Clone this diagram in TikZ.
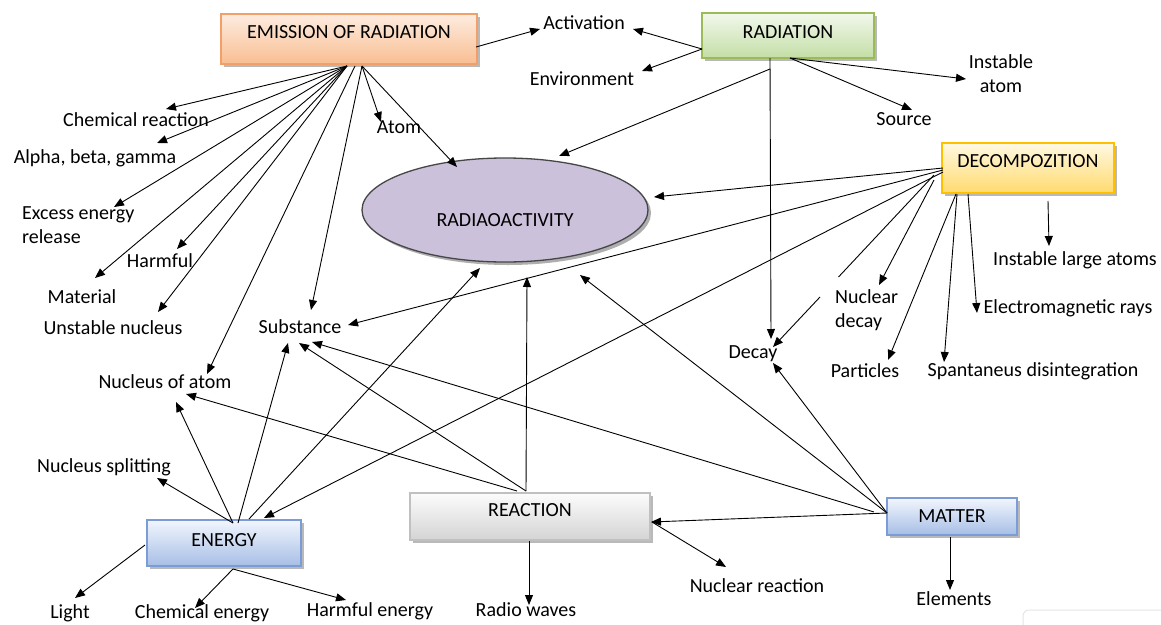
\documentclass[tikz,border=0pt]{standalone}
\usepackage{fontspec}
\setmainfont{Carlito}
\usetikzlibrary{arrows.meta,shapes.geometric,shadows}
\definecolor{emB}{RGB}{242,160,106}
\definecolor{emT}{RGB}{253,236,224}
\definecolor{emD}{RGB}{249,190,146}
\definecolor{raB}{RGB}{155,187,89}
\definecolor{raT}{RGB}{242,248,236}
\definecolor{raD}{RGB}{196,222,166}
\definecolor{deB}{RGB}{255,192,0}
\definecolor{deT}{RGB}{255,249,226}
\definecolor{deD}{RGB}{255,218,110}
\definecolor{enB}{RGB}{124,156,216}
\definecolor{enT}{RGB}{242,246,253}
\definecolor{enD}{RGB}{166,190,230}
\definecolor{reB}{RGB}{192,192,192}
\definecolor{reT}{RGB}{252,252,252}
\definecolor{reD}{RGB}{212,212,212}
\definecolor{elF}{RGB}{204,193,218}
\definecolor{elB}{RGB}{70,70,70}
\tikzset{
  txt/.style={font=\fontsize{20}{24}\selectfont},
  lbl/.style={txt, inner sep=1pt, anchor=base},
  boxbase/.style={txt, inner xsep=0pt, inner ysep=0pt, anchor=base, line width=1.3pt,
    drop shadow={shadow xshift=3pt,shadow yshift=-3pt,fill=black!30,opacity=0.9}},
  arr/.style={-{Triangle[length=10pt,width=8pt]}, line width=0.9pt},
  seg/.style={line width=0.9pt},
}
\begin{document}
\begin{tikzpicture}[x=1pt,y=-1pt]
\clip (0,0) rectangle (1161,624);
\fill[white] (0,0) rectangle (1161,624);
\draw[black!10, rounded corners=6pt, line width=1pt] (1023,610) rectangle (1200,690);

% main nodes
\node[boxbase, draw=emB, top color=emT, bottom color=emD, minimum width=256pt, text height=24pt, text depth=26pt] (emission) at (349,38) {EMISSION OF RADIATION};
\node[boxbase, draw=raB, top color=raT, bottom color=raD, minimum width=172pt, text height=25pt, text depth=20pt] (radiation) at (788,38) {RADIATION};
\node[boxbase, draw=deB, top color=deT, bottom color=deD, minimum width=172pt, text height=24pt, text depth=26pt] (decomp) at (1028,167) {DECOMPOZITION};
\node[boxbase, draw=enB, top color=enT, bottom color=enD, minimum width=154pt, text height=26pt, text depth=20pt] (energy) at (224,546) {ENERGY};
\node[boxbase, draw=reB, top color=reT, bottom color=reD, minimum width=240pt, text height=23pt, text depth=24pt] (reaction) at (530,516) {REACTION};
\node[boxbase, draw=enB, top color=enT, bottom color=enD, minimum width=130pt, text height=24pt, text depth=13pt] (matter) at (952,522) {MATTER};
\node[txt, ellipse, draw=elB, fill=elF, line width=1.3pt, minimum width=286pt, minimum height=104pt,
  text height=32pt, text depth=0pt, inner sep=0pt, anchor=base,
  drop shadow={shadow xshift=3pt,shadow yshift=-3pt,fill=black!35,opacity=0.9}] (radio) at (505,226) {RADIAOACTIVITY};

% labels
\node[lbl] (activation) at (584,29) {Activation};
\node[lbl] (environment) at (582,85) {Environment};
\node[lbl, align=center] (instatom) at (1001,92) {Instable\\atom};
\node[lbl] (source) at (904,125) {Source};
\node[lbl] (chemreact) at (136,126) {Chemical reaction};
\node[lbl] (alpha) at (95,163) {Alpha, beta, gamma};
\node[lbl, anchor=base west, align=left] (excess) at (21,243) {Excess energy\\release};
\node[lbl] (harmful) at (160,267) {Harmful};
\node[lbl] (material) at (82,303) {Material};
\node[lbl] (unstable) at (113,334) {Unstable nucleus};
\node[lbl] (atom) at (399,133) {Atom};
\node[lbl] (substance) at (300,333) {Substance};
\node[lbl] (nucatom) at (165,388) {Nucleus of atom};
\node[lbl] (nucsplit) at (104,472) {Nucleus splitting};
\node[lbl] (light) at (70,618) {Light};
\node[lbl] (chemenergy) at (202,618) {Chemical energy};
\node[lbl] (harmenergy) at (370,616) {Harmful energy};
\node[lbl] (radiowaves) at (526,616) {Radio waves};
\node[lbl] (nucreact) at (757,592) {Nuclear reaction};
\node[lbl] (elements) at (954,605) {Elements};
\node[lbl] (decay) at (753,358) {Decay};
\node[lbl] (particles) at (865,377) {Particles};
\node[lbl] (spont) at (1033,376) {Spantaneus disintegration};
\node[lbl] (emrays) at (1068,313) {Electromagnetic rays};
\node[lbl] (largeatoms) at (1075,265) {Instable large atoms};
\node[lbl, anchor=base west, align=left] (nucdecay) at (834,327) {Nuclear\\decay};

% connector end points
\coordinate (eA) at (347,66);
\coordinate (eM) at (355,66);
\coordinate (eB) at (362,66);
\coordinate (eR) at (476,47);
\coordinate (rL) at (702,49);
\coordinate (rV) at (770,58);
\coordinate (rV2) at (770,69);
\coordinate (rS) at (790,58);
\coordinate (dA) at (943,168);
\coordinate (dB) at (943,170);
\coordinate (dC) at (943,172);
\coordinate (dD) at (934,175);
\coordinate (gapA) at (838.5,277);
\coordinate (gapB) at (820,297);
\coordinate (dE) at (934,180);
\coordinate (dF) at (956,194);
\coordinate (dG) at (957,194);
\coordinate (dH) at (968,194);
\coordinate (dI) at (1048,201);
\coordinate (nA) at (233,523);
\coordinate (nB) at (238,523);
\coordinate (nC) at (249,519);
\coordinate (nL) at (145,545);
\coordinate (nD) at (233,569);
\coordinate (cA) at (517,491);
\coordinate (cB) at (526,491);
\coordinate (cD) at (529,541);
\coordinate (cR) at (652,522);
\coordinate (mA) at (887,513);
\coordinate (mB) at (874,512);
\coordinate (mD) at (950,537);

% EMISSION OF RADIATION
\draw[arr] (eA) -- (166,109);
\draw[arr] (eA) -- (157,143);
\draw[arr] (eA) -- (114,207);
\draw[arr] (eA) -- (95,278);
\draw[arr] (eA) -- (177,249);
\draw[arr] (eA) -- (158,312);
\draw[arr] (eM) -- (207,374);
\draw[arr] (eB) -- (311,310);
\draw[arr] (eB) -- (381,122);
\draw[arr] (eB) -- (457,167);
\draw[arr] (eR) -- (540,29);
% RADIATION
\draw[arr] (rL) -- (633,29);
\draw[arr] (rL) -- (642,71);
\draw[arr] (rV) -- (771,339);
\draw[arr] (rV2) -- (559,156);
\draw[arr] (rS) -- (912,110);
\draw[arr] (rS) -- (966,79);
% DECOMPOZITION
\draw[arr] (dA) -- (654,197);
\draw[arr] (dB) -- (348,325);
\draw[arr] (dC) -- (264,518);
\draw[seg] (dD) -- (gapA);
\draw[arr] (gapB) -- (773,347);
\draw[arr] (dE) -- (879,285);
\draw[arr] (dF) -- (888,360);
\draw[arr] (dG) -- (944,362);
\draw[arr] (dH) -- (977,313);
\draw[arr] (dI) -- (1049,246);
% ENERGY
\draw[arr] (nA) -- (157,478);
\draw[arr] (nA) -- (176,402);
\draw[arr] (nB) -- (288,343);
\draw[arr] (nC) -- (480,268);
\draw[arr] (nL) -- (75,598);
\draw[arr] (nD) -- (195,608);
\draw[arr] (nD) -- (346,600);
% REACTION
\draw[arr] (cA) -- (186,394);
\draw[arr] (cB) -- (299,343);
\draw[arr] (cB) -- (527,277);
\draw[arr] (cD) -- (529,605);
\draw[arr] (cR) -- (726,567);
% MATTER
\draw[arr] (mA) -- (651,522);
\draw[arr] (mA) -- (773,363);
\draw[arr] (mA) -- (580,275);
\draw[arr] (mB) -- (312,342);
\draw[arr] (mD) -- (950,590);
\end{tikzpicture}
\end{document}
